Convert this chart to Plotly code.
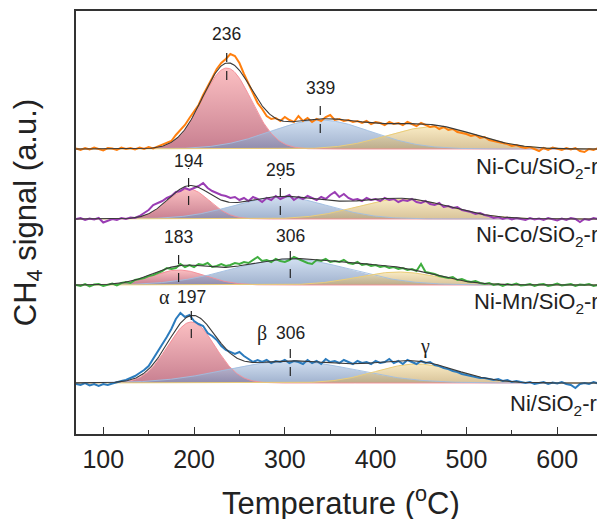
import numpy as np
import plotly.graph_objects as go

# ---------------- data ----------------
temps = list(range(70, 650, 5))  # temperature grid of the measured signals (°C)

samples = ["Ni-Cu/SiO<sub>2</sub>-r", "Ni-Co/SiO<sub>2</sub>-r",
           "Ni-Mn/SiO<sub>2</sub>-r", "Ni/SiO<sub>2</sub>-r"]
offsets = [285, 215, 149, 51]          # vertical stacking offsets (a.u.)

signal_nicu = [
    0.5, -1, 1, -0.5, 1.5, 0, -1.5, 1, 0.5, -1,
    1.5, 0, 1, -0.5, 1.5, 0, 2, 0.5, 2.5, 4,
    6, 8, 14, 19, 24, 31, 37, 44, 54, 62,
    71, 80, 86, 90, 95, 93, 86, 75, 65, 55,
    46, 40, 33, 30, 31, 28, 32, 29, 27, 33,
    28, 31, 27, 30, 28, 32, 34, 29, 30, 28,
    29, 27, 28, 26, 28, 25, 27, 26, 24, 27,
    25, 26, 24, 27, 25, 23, 26, 24, 22, 23,
    20, 22, 19, 20, 17, 16, 15, 13, 14, 11,
    12, 9, 8, 7, 6, 5, 3, 4, 2, 1,
    2, 0, -2, 1, -1, 1.5, 0, -1, 1, -0.5,
    1, -2, -3, 0, -1, 1]
signal_nico = [
    0, 1, -1, 0.5, -0.5, 1, -3.5, -1.5, 0, -1,
    1, 0, 1.5, 1, 3, 6, 9, 14, 16, 18,
    21, 23, 27, 28, 31, 29, 31, 33, 36, 31,
    28, 26, 24, 23, 21, 22, 19, 21, 18, 22,
    20, 17, 21, 19, 23, 20, 22, 24, 19, 22,
    20, 23, 21, 19, 22, 20, 24, 27, 22, 25,
    21, 19, 20, 18, 21, 19, 20, 18, 21, 19,
    20, 17, 19, 18, 20, 17, 16, 18, 15, 14,
    16, 12, 13, 11, 12, 9, 8, 7, 5, 6,
    4, 3, 1, 2, 0, 1.5, -0.5, 1, 0, -1,
    1, -0.5, 0.5, -1, 1, 0, -1.5, 0.5, -1, 1,
    0, -3, 0, -1, 1, 0]
signal_nimn = [
    0, -1, 1, -1.5, 0.5, 1, -1, 0, 1.5, -0.5,
    2, 3, 2, 5, 6, 7, 9, 10, 12, 14,
    17, 16, 17, 21, 18, 20, 18, 21, 20, 22,
    18, 19, 21, 19, 20, 22, 21, 23, 22, 25,
    28, 24, 25, 23, 26, 24, 23, 25, 28, 26,
    24, 22, 21, 25, 24, 26, 23, 24, 23, 25,
    22, 21, 23, 20, 21, 19, 20, 18, 19, 17,
    18, 16, 17, 15, 16, 14, 21, 13, 12, 11,
    9, 8, 7, 8, 5, 6, 4, 3, 4, 2,
    1, 2, 0, 1, -1, 1, 0, 1.5, -0.5, 0,
    1, -1, 0.5, 1, -1, 0, 1.5, -0.5, 0, 1,
    -1, 0.5, 0, 1, -1, 0]
signal_ni = [
    -1, -2, 0, -2.5, -1, -3, -1, -2, -0.5, 1,
    2, 3, 5, 7, 10, 13, 17, 24, 31, 39,
    46, 54, 64, 70, 66, 68, 62, 59, 57, 50,
    47, 43, 37, 33, 31, 29, 31, 27, 24, 21,
    23, 21, 23, 20, 22, 21, 23, 20, 22, 21,
    19, 23, 20, 22, 19, 24, 21, 22, 20, 23,
    21, 19, 22, 20, 21, 19, 22, 20, 21, 24,
    20, 22, 19, 23, 21, 19, 22, 20, 21, 18,
    17, 15, 14, 12, 11, 9, 8, 7, 6, 5,
    5, 4, 3, 4, 2, 3, 1, 2, 1, 0,
    1, -1, 0, 1, -1, 0.5, -0.5, 1, -1, -2,
    -5, -1, 0, -1, 1, -0.5]
signals = [signal_nicu, signal_nico, signal_nimn, signal_ni]

# Gaussian deconvolution components (alpha, beta, gamma) for each sample
alpha_center = [236, 194, 183, 197]
alpha_height = [81, 30, 15, 61]
alpha_sigma = [27, 23, 30, 26]
beta_center = [339, 295, 306, 306]
beta_height = [29, 22, 26, 22]
beta_sigma = [55, 52, 65, 70]
gamma_center = [462, 430, 425, 445]
gamma_height = [22, 20, 13, 19]
gamma_sigma = [50, 51, 45, 45]

# peak labels: temperature, text
peak_temp = [236, 339, 194, 295, 183, 306, 197, 306]
peak_text = ["236", "339", "194", "295", "183", "306", "197", "306"]

# ---------------- styles ----------------
line_colors = ["#ff7f0e", "#9a3db4", "#3fae3f", "#2b7bbd"]
comp_grad = [
    [[0, "rgba(190,105,125,0.85)"], [1, "rgba(250,175,178,0.80)"]],
    [[0, "rgba(120,145,185,0.70)"], [1, "rgba(190,210,235,0.70)"]],
    [[0, "rgba(200,170,110,0.70)"], [1, "rgba(245,225,170,0.70)"]],
]
comp_edge = ["rgba(245,140,150,0.9)", "rgba(160,190,225,0.9)", "rgba(235,205,120,1)"]

# dash extents and label heights (axis units) for the peak markers
dash_top = [389, 336, 266, 256, 188, 190, 131, 94]
dash_bot = [354, 301, 229, 219, 152, 156, 96, 58]
label_y = [400, 346, 273, 264, 197, 198, 137, 101]

fig = go.Figure()
xf = np.arange(70, 646, 1.0)
T = np.array(temps, dtype=float)


def gauss(x, c, h, s):
    return h * np.exp(-((x - c) ** 2) / (2 * s * s))


for i in range(4):
    off = offsets[i]
    comps = [gauss(xf, alpha_center[i], alpha_height[i], alpha_sigma[i]),
             gauss(xf, beta_center[i], beta_height[i], beta_sigma[i]),
             gauss(xf, gamma_center[i], gamma_height[i], gamma_sigma[i])]
    for k, g in enumerate(comps):
        fig.add_trace(go.Scatter(
            x=np.concatenate([xf, xf[::-1]]),
            y=np.concatenate([off + g, np.full_like(xf, off)]),
            fill="toself", mode="none",
            fillgradient=dict(type="vertical", colorscale=comp_grad[k]),
            hoverinfo="skip", showlegend=False))
    for k, g in enumerate(comps):
        fig.add_trace(go.Scatter(x=xf, y=off + g, mode="lines",
                                 line=dict(color=comp_edge[k], width=1),
                                 hoverinfo="skip", showlegend=False))
    fit = comps[0] + comps[1] + comps[2]
    fig.add_trace(go.Scatter(x=T, y=off + np.array(signals[i]), mode="lines",
                             line=dict(color=line_colors[i], width=2),
                             showlegend=False))
    fig.add_trace(go.Scatter(x=xf, y=off + fit, mode="lines",
                             line=dict(color="#3a3a3a", width=1.1),
                             showlegend=False))

for j in range(len(peak_temp)):
    fig.add_shape(type="line", x0=peak_temp[j], x1=peak_temp[j],
                  y0=dash_bot[j], y1=dash_top[j], xref="x", yref="y",
                  line=dict(color="#222", width=1.2, dash="dash"))
    fig.add_annotation(x=peak_temp[j], y=label_y[j], text=peak_text[j],
                       showarrow=False, font=dict(size=17.5, color="#222"),
                       xanchor="center", yanchor="middle")

# Greek labels
greek_font = dict(size=20, color="#222", family="Liberation Serif, Times New Roman, serif")
fig.add_annotation(x=167, y=137, text="α", showarrow=False, font=greek_font,
                   xanchor="center", yanchor="middle")
fig.add_annotation(x=275, y=101, text="β", showarrow=False, font=greek_font,
                   xanchor="center", yanchor="middle")
fig.add_annotation(x=454, y=88, text="γ", showarrow=False, font=greek_font,
                   xanchor="center", yanchor="middle")

# sample names
name_x = [508, 508, 506, 546]
name_y = [266, 198, 131, 29]
for i in range(4):
    fig.add_annotation(x=name_x[i], y=name_y[i], text=samples[i], showarrow=False,
                       font=dict(size=22, color="#222"), xanchor="left", yanchor="middle")

# axis titles
fig.add_annotation(x=0.509, y=-0.158, xref="paper", yref="paper",
                   text="Temperature (<sup>o</sup>C)", showarrow=False,
                   font=dict(size=31, color="#222"), xanchor="center", yanchor="middle")
fig.add_annotation(x=-0.092, y=0.522, xref="paper", yref="paper",
                   text="CH<sub>4</sub> signal (a.u.)", showarrow=False, textangle=-90,
                   font=dict(size=31, color="#222"), xanchor="center", yanchor="middle")

fig.update_layout(
    width=597, height=519,
    margin=dict(l=76, r=0, t=11, b=85),
    paper_bgcolor="white", plot_bgcolor="white",
    font=dict(family="Liberation Sans, Arial, sans-serif", color="#222"),
    showlegend=False,
    xaxis=dict(range=[70, 643.8], tickvals=[100, 200, 300, 400, 500, 600],
               ticks="inside", ticklen=7, tickwidth=1.3, tickcolor="#333",
               showline=True, linecolor="#333", linewidth=1.5, mirror=True,
               showgrid=False, zeroline=False, tickfont=dict(size=25),
               ticklabelstandoff=2,
               minor=dict(dtick=50, tick0=0, ticks="inside", ticklen=4,
                          tickwidth=1.2, tickcolor="#333", showgrid=False)),
    yaxis=dict(range=[0, 423], showticklabels=False, ticks="",
               showline=True, linecolor="#333", linewidth=1.5,
               showgrid=False, zeroline=False),
)

fig.write_html("out.html")
